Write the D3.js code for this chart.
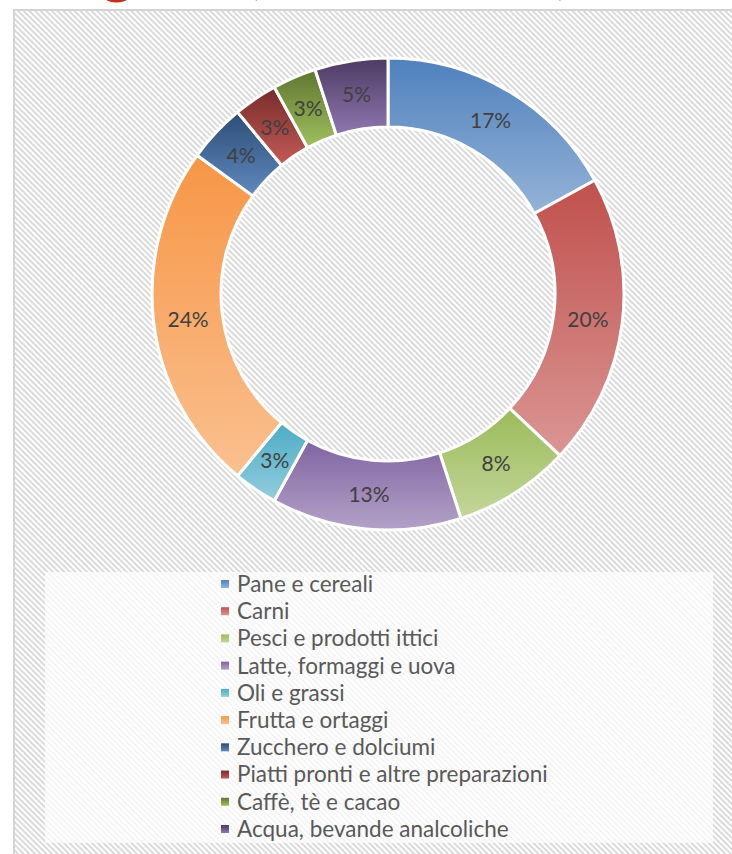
<!DOCTYPE html>
<html lang='it'>
<head>
  <meta charset='UTF-8'>
  <title>Categorie</title>
  <style>
    * { margin: 0; padding: 0; }
    body { background: #fff; overflow: hidden; }
    #chart { width: 732px; height: 854px; }
  </style>
</head>
<body>
<script src='https://cdn.jsdelivr.net/npm/d3@7'></script>
<div id='chart'></div>
<script>
  // dati
  const categories = ['Pane e cereali', 'Carni', 'Pesci e prodotti ittici', 'Latte, formaggi e uova',
    'Oli e grassi', 'Frutta e ortaggi', 'Zucchero e dolciumi', 'Piatti pronti e altre preparazioni',
    'Caffè, tè e cacao', 'Acqua, bevande analcoliche']
  const values = [17, 20, 8, 13, 3, 24, 4, 3, 3, 5]
  const topColors = ['#4f81bd', '#c0504d', '#9bbb59', '#8064a2', '#4bacc6', '#f79646',
    '#2c4d75', '#772c2a', '#5f7530', '#4d3b62']
  const bottomColors = ['#95b3d7', '#da9694', '#c3d69b', '#b3a2c7', '#93cddd', '#fac090',
    '#6189c0', '#c45a57', '#a0c05e', '#8f77b0']

  const W = 732, H = 854
  const cx = 388, cy = 294, rOut = 236, rIn = 167

  let svg = d3.select('#chart').append('svg')
    .attr('width', W).attr('height', H)

  let defs = svg.append('defs')
  // tratteggio di sfondo
  let hatch = defs.append('pattern')
    .attr('id', 'hatch')
    .attr('patternUnits', 'userSpaceOnUse')
    .attr('width', 4).attr('height', 4)
    .attr('patternTransform', 'rotate(-45)')
  hatch.append('rect').attr('width', 4).attr('height', 4).attr('fill', '#fff')
  hatch.append('rect').attr('width', 2).attr('height', 4).attr('fill', '#dadada')

  categories.forEach((c, i) => {
    let g = defs.append('linearGradient')
      .attr('id', 'grad' + i)
      .attr('x1', 0).attr('y1', 0).attr('x2', 0).attr('y2', 1)
    g.append('stop').attr('offset', '0%').attr('stop-color', topColors[i])
    g.append('stop').attr('offset', '100%').attr('stop-color', bottomColors[i])
  })

  // titolo (tagliato in alto)
  let title = svg.append('text')
    .attr('font-family', 'Lato, "Open Sans", sans-serif')
    .attr('font-size', 66)
    .attr('fill', '#c0311a')
  let t1 = title.append('tspan').attr('y', -9).text('Categorie ')
  let t2 = title.append('tspan').attr('x', 244).attr('y', -9)
    .attr('textLength', 328).attr('lengthAdjust', 'spacing')
    .text('(valori in %)')
  let off = title.node().getSubStringLength(0, 4)
  t1.attr('x', 100 - off)

  // area del grafico
  svg.append('rect')
    .attr('x', 14).attr('y', 10)
    .attr('width', W).attr('height', H)
    .attr('fill', 'url(#hatch)')
    .attr('stroke', '#d4d4d4').attr('stroke-width', 2)

  // anello
  let pie = d3.pie().sort(null).value(d => d)
  let arc = d3.arc().innerRadius(rIn).outerRadius(rOut)
  let ring = svg.append('g').attr('transform', 'translate(' + cx + ',' + cy + ')')

  let slices = ring.selectAll('g.slice')
    .data(pie(values))
    .enter().append('g').attr('class', 'slice')

  slices.append('path')
    .attr('d', arc)
    .attr('fill', (d, i) => 'url(#grad' + i + ')')
    .attr('stroke', '#fff')
    .attr('stroke-width', 3)
    .attr('stroke-linejoin', 'round')

  slices.append('text')
    .attr('transform', d => 'translate(' + arc.centroid(d) + ')')
    .attr('text-anchor', 'middle')
    .attr('dy', '0.35em')
    .attr('font-family', 'Lato, "Open Sans", sans-serif')
    .attr('font-size', 21)
    .attr('fill', '#404040')
    .text(d => d.data + '%')

  // legenda
  svg.append('rect')
    .attr('x', 45).attr('y', 572)
    .attr('width', 668).attr('height', 271)
    .attr('fill', '#fff').attr('fill-opacity', 0.72)

  let ly = d3.scalePoint().domain(categories).range([584, 829])
  let legend = svg.append('g')
  let items = legend.selectAll('g')
    .data(categories)
    .enter().append('g')
    .attr('transform', d => 'translate(221,' + ly(d) + ')')
  items.append('rect')
    .attr('x', 0).attr('y', -4)
    .attr('width', 8).attr('height', 8)
    .attr('fill', (d, i) => 'url(#grad' + i + ')')
  items.append('text')
    .attr('x', 16)
    .attr('dy', '0.35em')
    .attr('font-family', 'Lato, "Open Sans", sans-serif')
    .attr('font-size', 22.5)
    .attr('fill', '#595959')
    .text(d => d)
</script>
</body>
</html>
